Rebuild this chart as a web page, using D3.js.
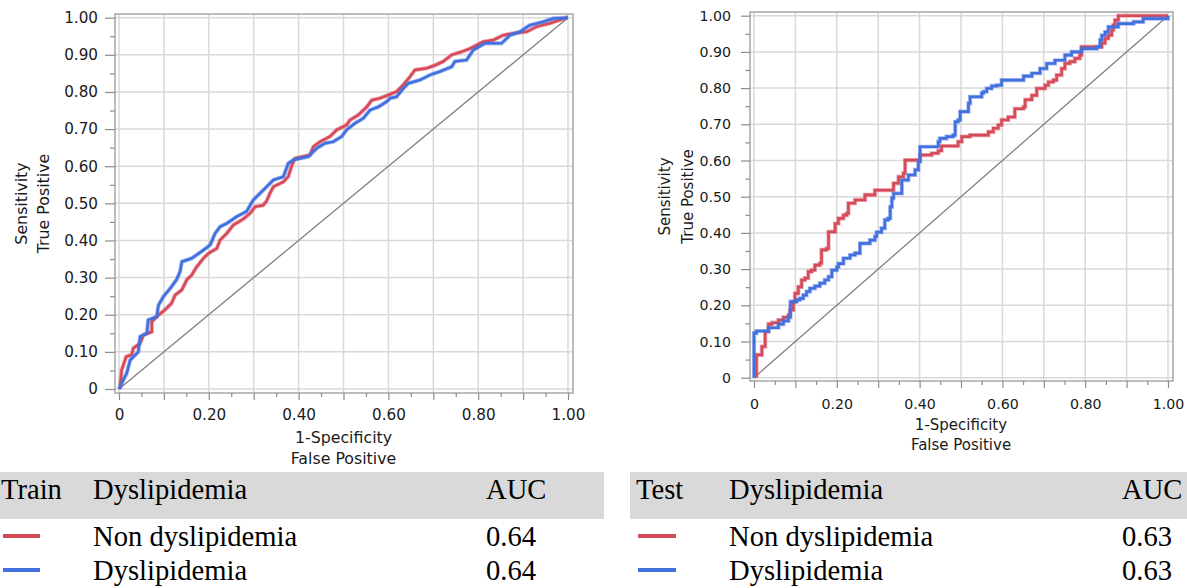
<!DOCTYPE html>
<html><head><meta charset="utf-8">
<script src="https://cdn.jsdelivr.net/npm/d3@7"></script>
<style>body{margin:0;background:#fff}svg{display:block}</style>
</head><body><svg id="c" width="1187" height="588"></svg>
<script>
// ---------- data ----------
const tickVals = [0,0.1,0.2,0.3,0.4,0.5,0.6,0.7,0.8,0.9,1.0];
const minorVals = [0.05,0.15,0.25,0.35,0.45,0.55,0.65,0.75,0.85,0.95];
const xLabelVals = [0,0.2,0.4,0.6,0.8,1.0];
const seriesNames = ["Non dyslipidemia","Dyslipidemia"];
const trainAUC = ["0.64","0.64"];
const testAUC = ["0.63","0.63"];

const trainNon = [[0.002,0],[0.006,0.051],[0.016,0.087],[0.028,0.092],[0.032,0.11],[0.047,0.123],[0.054,0.145],[0.073,0.154],[0.073,0.181],[0.088,0.199],[0.102,0.213],[0.117,0.231],[0.125,0.253],[0.140,0.267],[0.151,0.294],[0.162,0.307],[0.173,0.329],[0.188,0.352],[0.199,0.365],[0.218,0.379],[0.225,0.401],[0.240,0.419],[0.255,0.442],[0.277,0.458],[0.292,0.473],[0.303,0.491],[0.321,0.495],[0.329,0.507],[0.336,0.527],[0.344,0.545],[0.366,0.558],[0.377,0.572],[0.385,0.603],[0.392,0.621],[0.425,0.630],[0.433,0.653],[0.448,0.666],[0.470,0.680],[0.485,0.698],[0.507,0.711],[0.514,0.724],[0.533,0.738],[0.552,0.760],[0.563,0.778],[0.581,0.783],[0.600,0.792],[0.618,0.801],[0.633,0.819],[0.648,0.841],[0.659,0.859],[0.685,0.864],[0.704,0.872],[0.722,0.882],[0.741,0.900],[0.763,0.908],[0.782,0.917],[0.811,0.935],[0.834,0.940],[0.856,0.953],[0.878,0.958],[0.908,0.962],[0.930,0.976],[0.960,0.985],[0.997,1],[1,1]];
const trainDys = [[0,0],[0.017,0.042],[0.025,0.078],[0.043,0.10],[0.047,0.141],[0.062,0.15],[0.065,0.186],[0.084,0.195],[0.088,0.226],[0.099,0.249],[0.114,0.271],[0.128,0.294],[0.136,0.316],[0.140,0.343],[0.162,0.352],[0.188,0.374],[0.203,0.388],[0.214,0.419],[0.225,0.437],[0.240,0.446],[0.262,0.464],[0.284,0.478],[0.299,0.509],[0.329,0.545],[0.344,0.563],[0.366,0.572],[0.377,0.608],[0.388,0.617],[0.422,0.626],[0.440,0.648],[0.459,0.662],[0.477,0.666],[0.496,0.680],[0.507,0.698],[0.526,0.716],[0.544,0.729],[0.559,0.751],[0.578,0.760],[0.596,0.774],[0.604,0.783],[0.618,0.787],[0.630,0.805],[0.644,0.823],[0.670,0.832],[0.693,0.846],[0.715,0.855],[0.741,0.868],[0.748,0.882],[0.774,0.886],[0.789,0.913],[0.815,0.931],[0.852,0.931],[0.871,0.953],[0.893,0.962],[0.915,0.980],[0.945,0.989],[0.967,0.998],[1,1]];
const testNon = [[0.006,0],[0.006,0.063],[0.014,0.063],[0.019,0.086],[0.027,0.086],[0.027,0.127],[0.035,0.148],[0.043,0.152],[0.059,0.159],[0.071,0.167],[0.083,0.173],[0.087,0.187],[0.095,0.21],[0.099,0.233],[0.107,0.251],[0.115,0.27],[0.123,0.275],[0.131,0.293],[0.139,0.297],[0.147,0.311],[0.159,0.316],[0.163,0.353],[0.175,0.357],[0.180,0.403],[0.191,0.403],[0.196,0.426],[0.204,0.44],[0.216,0.449],[0.224,0.454],[0.228,0.482],[0.244,0.491],[0.268,0.505],[0.292,0.518],[0.333,0.518],[0.337,0.537],[0.349,0.555],[0.361,0.565],[0.365,0.601],[0.393,0.601],[0.401,0.615],[0.429,0.62],[0.445,0.627],[0.453,0.64],[0.493,0.652],[0.502,0.666],[0.522,0.67],[0.566,0.679],[0.578,0.689],[0.590,0.698],[0.598,0.712],[0.614,0.72],[0.630,0.743],[0.651,0.748],[0.655,0.768],[0.671,0.78],[0.683,0.799],[0.703,0.808],[0.711,0.817],[0.723,0.822],[0.731,0.836],[0.743,0.854],[0.751,0.868],[0.763,0.873],[0.775,0.882],[0.787,0.891],[0.791,0.914],[0.832,0.914],[0.840,0.924],[0.848,0.937],[0.856,0.946],[0.864,0.96],[0.868,0.974],[0.872,0.988],[0.880,1],[1,1]];
const testDys = [[0,0],[0,0.123],[0.006,0.129],[0.031,0.129],[0.035,0.138],[0.055,0.138],[0.059,0.148],[0.071,0.157],[0.083,0.167],[0.088,0.21],[0.103,0.215],[0.111,0.219],[0.119,0.228],[0.127,0.238],[0.135,0.247],[0.147,0.253],[0.159,0.261],[0.171,0.27],[0.180,0.279],[0.188,0.297],[0.2,0.306],[0.204,0.315],[0.216,0.33],[0.232,0.339],[0.244,0.344],[0.256,0.371],[0.276,0.371],[0.280,0.38],[0.292,0.39],[0.296,0.402],[0.308,0.413],[0.316,0.436],[0.324,0.44],[0.329,0.472],[0.333,0.496],[0.337,0.509],[0.353,0.509],[0.357,0.546],[0.373,0.56],[0.389,0.574],[0.397,0.597],[0.401,0.597],[0.401,0.638],[0.437,0.638],[0.445,0.652],[0.449,0.661],[0.465,0.666],[0.481,0.670],[0.486,0.707],[0.493,0.712],[0.498,0.735],[0.51,0.735],[0.518,0.758],[0.522,0.776],[0.546,0.776],[0.550,0.786],[0.554,0.79],[0.562,0.799],[0.574,0.806],[0.586,0.808],[0.598,0.822],[0.643,0.822],[0.651,0.833],[0.671,0.841],[0.691,0.854],[0.707,0.868],[0.727,0.877],[0.751,0.891],[0.767,0.9],[0.791,0.909],[0.828,0.914],[0.836,0.933],[0.840,0.946],[0.848,0.955],[0.856,0.969],[0.868,0.969],[0.880,0.978],[0.917,0.983],[0.940,0.992],[1,0.997],[1,1]];

const colors = ["#d64a5a","#4370df"];

// ---------- drawing ----------
const svg = d3.select("#c");
const fmt = v => v === 0 ? "0" : d3.format(".2f")(v);

function panel(cfg){
  const g = svg.append("g");
  const x = d3.scaleLinear().domain([0,1]).range([cfg.x0, cfg.x1]);
  const y = d3.scaleLinear().domain([0,1]).range([cfg.y0, cfg.y1]);
  const F = cfg.frame; // [left, top, right, bottom]
  g.selectAll(".gv").data(tickVals).join("line")
    .attr("x1", d=>x(d)).attr("x2", d=>x(d)).attr("y1", F[1]).attr("y2", F[3])
    .attr("stroke","#d9d9d9").attr("stroke-width",1.5);
  g.selectAll(".gh").data(tickVals).join("line")
    .attr("y1", d=>y(d)).attr("y2", d=>y(d)).attr("x1", F[0]).attr("x2", F[2])
    .attr("stroke","#d9d9d9").attr("stroke-width",1.5);
  g.append("rect").attr("x",F[0]).attr("y",F[1]).attr("width",F[2]-F[0]).attr("height",F[3]-F[1])
    .attr("fill","none").attr("stroke","#a6a6a6").attr("stroke-width",1.5);
  const ya = g.append("g").attr("transform",`translate(${F[0]},0)`)
    .call(d3.axisLeft(y).tickValues(tickVals).tickSize(cfg.yTick).tickPadding(cfg.yPad).tickFormat(fmt));
  const ym = g.append("g").attr("transform",`translate(${F[0]},0)`)
    .call(d3.axisLeft(y).tickValues(minorVals).tickSize(cfg.yTick/2).tickFormat(""));
  const xa = g.append("g").attr("transform",`translate(0,${F[3]})`)
    .call(d3.axisBottom(x).tickValues(tickVals).tickSize(7)
      .tickFormat(d => xLabelVals.some(v=>Math.abs(v-d)<1e-9) ? fmt(d) : ""));
  const xm = g.append("g").attr("transform",`translate(0,${F[3]})`)
    .call(d3.axisBottom(x).tickValues(minorVals).tickSize(4).tickFormat(""));
  [ya,ym,xa,xm].forEach(a=>{
    a.select(".domain").remove();
    a.selectAll("line").attr("stroke","#8c8c8c").attr("stroke-width",1.2);
    a.selectAll("text").attr("font-family","DejaVu Sans").attr("font-size",cfg.fs).attr("fill","#1a1a1a");
  });
  xa.selectAll("text").attr("y", cfg.xLabBase - F[3]).attr("dy", 0);
  g.append("line").attr("x1",x(0)).attr("y1",y(0)).attr("x2",x(1)).attr("y2",y(1))
    .attr("stroke","#808080").attr("stroke-width",1.3);
  const line = d3.line().x(d=>x(d[0])).y(d=>y(d[1])).curve(cfg.curve);
  cfg.series.forEach((s,i)=>{
    g.append("path").datum(s).attr("d",line).attr("fill","none")
      .attr("stroke",colors[i]).attr("stroke-opacity",0.45).attr("stroke-width",4.2).attr("stroke-linejoin","miter");
    g.append("path").datum(s).attr("d",line).attr("fill","none")
      .attr("stroke",colors[i]).attr("stroke-width",2.6).attr("stroke-linejoin","miter");
  });
  const tf = (sel)=>sel.attr("font-family","DejaVu Sans").attr("font-size",cfg.tfs).attr("fill","#1a1a1a").attr("text-anchor","middle");
  const cx = (x(0)+x(1))/2, cy = (F[1]+F[3])/2;
  tf(g.append("text").attr("x",cx).attr("y",cfg.xt1).text("1-Specificity"));
  tf(g.append("text").attr("x",cx).attr("y",cfg.xt2).text("False Positive"));
  tf(g.append("text").attr("transform",`translate(${cfg.yt1},${cy}) rotate(-90)`).text("Sensitivity"));
  tf(g.append("text").attr("transform",`translate(${cfg.yt2},${cy}) rotate(-90)`).text("True Positive"));
}

panel({x0:119,x1:568,y0:389,y1:17.7,frame:[115,14,573,393],yTick:10,yPad:7,fs:15.2,tfs:15.8,
  xLabBase:420,xt1:442.5,xt2:463.5,yt1:27,yt2:48.5,series:[trainNon,trainDys],curve:d3.curveLinear});
panel({x0:754,x1:1168,y0:377.7,y1:15.7,frame:[750,12,1173,381],yTick:9,yPad:10,fs:14.2,tfs:15,
  xLabBase:408.5,xt1:430,xt2:450,yt1:670,yt2:693,series:[testNon,testDys],curve:d3.curveStepAfter});

function table(cfg){
  const g = svg.append("g");
  g.append("rect").attr("x",cfg.bx0).attr("y",472).attr("width",cfg.bx1-cfg.bx0).attr("height",47).attr("fill","#d9d9d9");
  const t = (x,y,s)=>g.append("text").attr("x",x).attr("y",y).text(s)
    .attr("font-family","Liberation Serif").attr("font-size",28.6).attr("fill","#000");
  t(cfg.c0,499,cfg.title); t(cfg.c1,499,"Dyslipidemia"); t(cfg.c2,499,"AUC");
  seriesNames.forEach((n,i)=>{
    const yy = 546 + i*34;
    g.append("line").attr("x1",cfg.l0).attr("x2",cfg.l1).attr("y1",yy-10).attr("y2",yy-10)
      .attr("stroke",colors[i]).attr("stroke-width",4);
    t(cfg.c1,yy,n); t(cfg.c2,yy,cfg.auc[i]);
  });
}
table({bx0:0,bx1:604,c0:1,c1:93,c2:486,l0:3,l1:40,title:"Train",auc:trainAUC});
table({bx0:630,bx1:1187,c0:636,c1:729,c2:1122,l0:638,l1:676,title:"Test",auc:testAUC});
</script></body></html>
